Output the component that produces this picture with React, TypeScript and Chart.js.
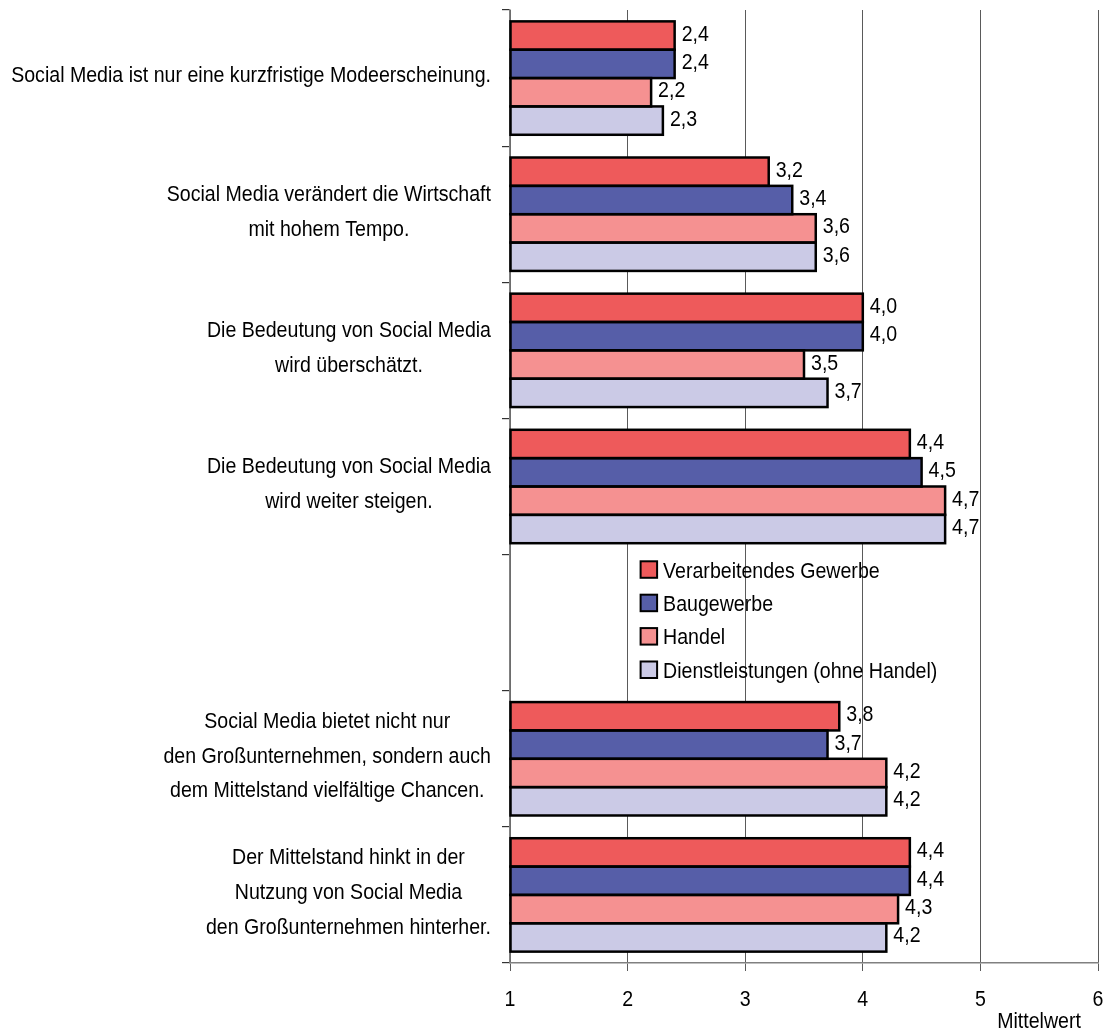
import React, { useEffect, useRef } from "react";
import { Chart, registerables } from "chart.js";

Chart.register(...registerables);

// ---------- data ----------
const categories: string[][] = [
  ["Social Media ist nur eine kurzfristige Modeerscheinung."],
  ["Social Media verändert die Wirtschaft", "mit hohem Tempo."],
  ["Die Bedeutung von Social Media", "wird überschätzt."],
  ["Die Bedeutung von Social Media", "wird weiter steigen."],
  [""],
  ["Social Media bietet nicht nur", "den Großunternehmen, sondern auch", "dem Mittelstand vielfältige Chancen."],
  ["Der Mittelstand hinkt in der", "Nutzung von Social Media", "den Großunternehmen hinterher."],
];

const seriesNames = [
  "Verarbeitendes Gewerbe",
  "Baugewerbe",
  "Handel",
  "Dienstleistungen (ohne Handel)",
];

const verarbeitendesGewerbe = [2.4, 3.2, 4.0, 4.4, null, 3.8, 4.4];
const baugewerbe = [2.4, 3.4, 4.0, 4.5, null, 3.7, 4.4];
const handel = [2.2, 3.6, 3.5, 4.7, null, 4.2, 4.3];
const dienstleistungen = [2.3, 3.6, 3.7, 4.7, null, 4.2, 4.2];

const xMin = 1;
const xMax = 6;
const xStep = 1;
const axisTitle = "Mittelwert";

// ---------- style ----------
const seriesColors = ["#EE5A5B", "#565EA8", "#F59191", "#CBCAE6"];
const FONT_FAMILY = '"Liberation Sans", Arial, Helvetica, sans-serif';
const FONT_SIZE = 22.5;
const SX = 0.87;
const FONT = `${FONT_SIZE}px ${FONT_FAMILY}`;

const fmt = (v: number) => v.toFixed(1).replace(".", ",");

function drawText(
  ctx: CanvasRenderingContext2D,
  text: string,
  x: number,
  y: number,
  align: CanvasTextAlign
) {
  ctx.save();
  ctx.translate(x, y);
  ctx.scale(SX, 1);
  ctx.textAlign = align;
  ctx.textBaseline = "alphabetic";
  ctx.fillText(text, 0, 0);
  ctx.restore();
}

const customPlugin = {
  id: "customDraw",
  afterDatasetsDraw(chart: any) {
    const ctx = chart.ctx as CanvasRenderingContext2D;
    chart.data.datasets.forEach((ds: any, di: number) => {
      const meta = chart.getDatasetMeta(di);
      meta.data.forEach((bar: any, i: number) => {
        const v = ds.data[i];
        if (v === null || v === undefined) return;
        const { x, y, base, height } = bar.getProps(["x", "y", "base", "height"], true);
        const left = Math.max(Math.min(x, base), chart.chartArea.left);
        const right = Math.max(x, base);
        ctx.save();
        ctx.strokeStyle = "#000";
        ctx.lineWidth = 2.5;
        ctx.strokeRect(left, y - height / 2, right - left, height);
        ctx.fillStyle = "#000";
        ctx.font = FONT;
        drawText(ctx, fmt(v), right + 7, y + 5, "left");
        ctx.restore();
      });
    });
  },
  afterDraw(chart: any) {
    const ctx = chart.ctx as CanvasRenderingContext2D;
    const yScale = chart.scales.y;
    const xScale = chart.scales.x;
    ctx.save();
    ctx.font = FONT;
    ctx.fillStyle = "#000";
    // category labels (block right-aligned, lines centred)
    const lineH = 34.7;
    const rightEdge = chart.chartArea.left - 19;
    categories.forEach((lines, i) => {
      const c = yScale.getPixelForValue(i);
      const widths = lines.map((l) => ctx.measureText(l).width * SX);
      const blockW = Math.max(...widths);
      const cx = rightEdge - blockW / 2;
      lines.forEach((l, k) => {
        const yy = c + (k - (lines.length - 1) / 2) * lineH + 4;
        drawText(ctx, l, cx, yy, "center");
      });
    });
    // x tick labels
    xScale.ticks.forEach((t: any) => {
      const px = xScale.getPixelForValue(t.value);
      drawText(ctx, String(t.value), px, chart.chartArea.bottom + 43, "center");
    });
    // legend inside empty slot
    const emptyIdx = categories.findIndex((l) => l.join("") === "");
    const lc = yScale.getPixelForValue(emptyIdx);
    const bx = xScale.getPixelForValue(2) + 13;
    const box = 16.5;
    seriesNames.forEach((name, k) => {
      const ry = lc + (k - 1.5) * 33.4 - 3;
      ctx.fillStyle = seriesColors[k];
      ctx.fillRect(bx, ry - box / 2, box, box);
      ctx.strokeStyle = "#000";
      ctx.lineWidth = 2;
      ctx.strokeRect(bx, ry - box / 2, box, box);
      ctx.fillStyle = "#000";
      drawText(ctx, name, bx + 22.5, ry + 8, "left");
    });
    // axis title
    drawText(ctx, axisTitle, chart.chartArea.right - 59, chart.height - 4, "center");
    ctx.restore();
  },
};

export default function App() {
  const ref = useRef<HTMLCanvasElement | null>(null);
  useEffect(() => {
    document.body.style.margin = "0";
    const canvas = ref.current;
    if (!canvas) return;
    const series = [verarbeitendesGewerbe, baugewerbe, handel, dienstleistungen];
    const chart = new Chart(canvas, {
      type: "bar",
      data: {
        labels: categories.map((l) => l.join(" ")),
        datasets: series.map((d, k) => ({
          label: seriesNames[k],
          data: d as any,
          backgroundColor: seriesColors[k],
          borderWidth: 0,
          base: xMin,
          categoryPercentage: 0.833,
          barPercentage: 1.0,
        })),
      },
      options: {
        indexAxis: "y",
        responsive: false,
        animation: false,
        devicePixelRatio: 1,
        layout: { padding: { top: 10, right: 11, left: 0, bottom: 0 } },
        plugins: {
          legend: { display: false },
          tooltip: { enabled: false },
        },
        scales: {
          x: {
            type: "linear",
            position: "bottom",
            min: xMin,
            max: xMax,
            ticks: {
              stepSize: xStep,
              display: false,
            },
            grid: { color: "#5a5a5a", lineWidth: 1, tickLength: 8, drawTicks: true },
            border: { color: "#808080", width: 1.5 },
            afterFit: (s: any) => {
              s.height = 69;
              s.paddingLeft = 0;
              s.paddingRight = 0;
            },
          },
          y: {
            type: "category",
            offset: true,
            ticks: { display: false },
            grid: {
              offset: true,
              drawOnChartArea: false,
              drawTicks: true,
              tickLength: 8,
              color: "#333",
              lineWidth: 1.2,
            },
            border: { color: "#808080", width: 1.5 },
            afterFit: (s: any) => {
              s.width = 510;
              s.paddingTop = 0;
              s.paddingBottom = 0;
            },
          },
        },
      } as any,
      plugins: [customPlugin],
    });
    return () => chart.destroy();
  }, []);
  return (
    <canvas
      ref={ref}
      width={1109}
      height={1032}
      style={{ display: "block", width: 1109, height: 1032 }}
    />
  );
}
